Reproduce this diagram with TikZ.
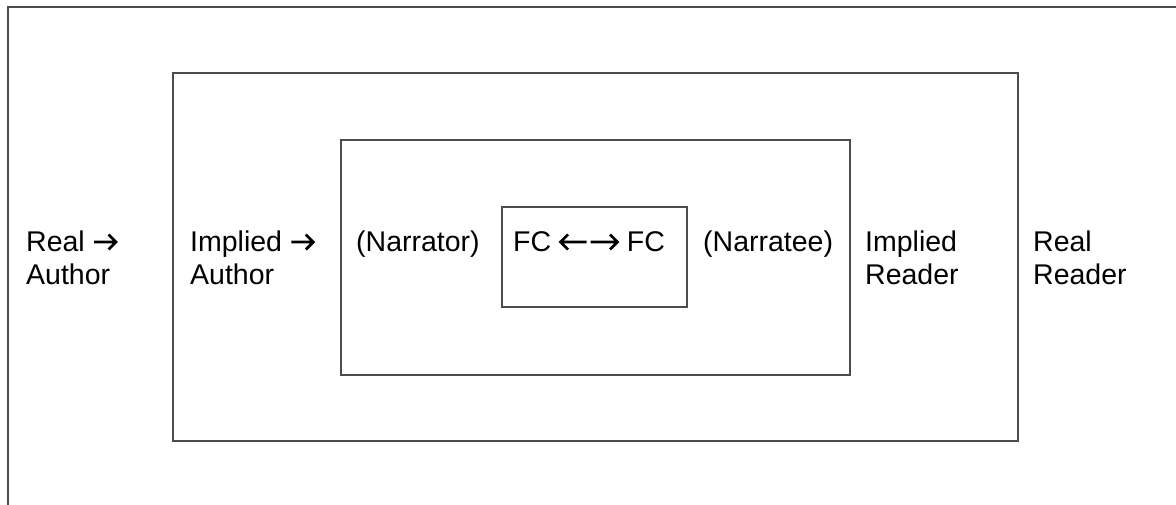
\documentclass[tikz,border=0pt]{standalone}
\usepackage{fontspec}
\setmainfont{Liberation Sans}
\tikzset{glyph/.style={line width=2.7pt,line join=miter,line cap=butt}}
\newcommand\rarr{\tikz[baseline=0pt,x=1pt,y=1pt]\draw[glyph] (0,9) -- (22,9) (14.5,16.5) -- (22,9) -- (14.5,1.5);}
\newcommand\lrarr{\tikz[baseline=0pt,x=1pt,y=1pt]\draw[glyph] (0,9) -- (26,9) (7.5,16.5) -- (0,9) -- (7.5,1.5) (30,9) -- (57,9) (49.5,16.5) -- (57,9) -- (49.5,1.5);}
\begin{document}
\begin{tikzpicture}[x=1pt,y=-1pt,
  frame/.style={draw=black!70,line width=1.4pt},
  lbl/.style={anchor=base west,inner sep=0pt,align=left,font=\fontsize{28.5}{33}\selectfont}]
\useasboundingbox (0,0) rectangle (1176,504);
\begin{scope}
\clip (0,0) rectangle (1176,504);
\draw[frame] (8,7) rectangle (1200,530);
\end{scope}
\draw[frame] (173,73) rectangle (1018,441);
\draw[frame] (341,140) rectangle (850,375);
\draw[frame] (502,207) rectangle (687,307);
\node[lbl] (ra) at (26,284) {Real \rarr\\Author};
\node[lbl] (ia) at (190,284) {Implied \rarr\\Author};
\node[lbl] (nr) at (356,251) {(Narrator)};
\node[lbl] (fc) at (513,251) {FC\hspace{8pt}\lrarr\hspace{8pt}FC};
\node[lbl] (ne) at (703,251) {(Narratee)};
\node[lbl] (ir) at (865,284) {Implied\\Reader};
\node[lbl] (rr) at (1033,284) {Real\\Reader};
\end{tikzpicture}
\end{document}
